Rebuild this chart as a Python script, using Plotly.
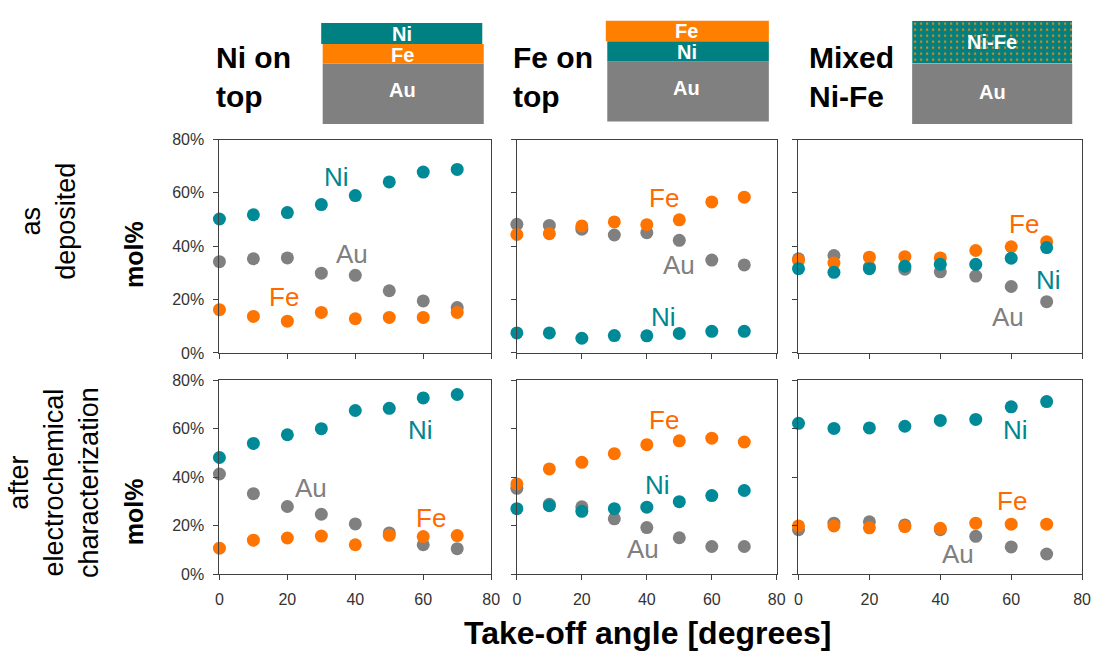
import plotly.graph_objects as go

W, H = 1100, 663

angles = [0, 10, 20, 30, 40, 50, 60, 70]
x_ticks = [0, 20, 40, 60, 80]
y_ticks = [0, 20, 40, 60, 80]
y_tick_text = ["0%", "20%", "40%", "60%", "80%"]

# as deposited (mol%)
ni_top_dep_Ni = [50.2, 51.8, 52.6, 55.6, 59.0, 64.1, 67.8, 68.8]
ni_top_dep_Au = [34.2, 35.3, 35.6, 29.9, 29.1, 23.3, 19.5, 17.0]
ni_top_dep_Fe = [16.2, 13.7, 11.9, 15.2, 12.8, 13.3, 13.3, 15.2]

fe_top_dep_Ni = [7.5, 7.5, 5.5, 6.5, 6.4, 7.3, 8.1, 8.1]
fe_top_dep_Fe = [44.4, 44.7, 47.6, 49.1, 48.1, 49.9, 56.6, 58.4]
fe_top_dep_Au = [48.2, 47.8, 46.4, 44.2, 45.1, 42.2, 34.8, 33.0]

mix_dep_Ni = [31.6, 30.2, 31.6, 32.5, 33.2, 33.2, 35.5, 39.5]
mix_dep_Fe = [34.7, 33.7, 35.9, 36.1, 35.6, 38.4, 39.8, 41.7]
mix_dep_Au = [35.3, 36.5, 32.2, 31.4, 30.4, 28.8, 24.9, 19.2]

# after electrochemical characterization (mol%)
ni_top_ec_Ni = [48.1, 53.9, 57.5, 60.0, 67.5, 68.4, 72.7, 74.1]
ni_top_ec_Au = [41.3, 33.2, 27.9, 24.7, 20.7, 17.0, 12.1, 10.5]
ni_top_ec_Fe = [10.7, 14.0, 14.9, 15.7, 12.1, 16.0, 15.5, 15.9]

fe_top_ec_Ni = [27.0, 28.2, 25.9, 27.0, 27.6, 29.9, 32.4, 34.5]
fe_top_ec_Fe = [37.2, 43.4, 46.1, 49.7, 53.4, 55.0, 56.1, 54.5]
fe_top_ec_Au = [35.4, 28.8, 27.8, 22.8, 19.2, 15.0, 11.4, 11.4]

mix_ec_Ni = [62.2, 60.1, 60.3, 61.0, 63.4, 63.8, 69.0, 71.2]
mix_ec_Fe = [19.9, 19.9, 19.1, 19.6, 18.9, 21.0, 20.6, 20.6]
mix_ec_Au = [18.3, 21.0, 21.6, 20.3, 18.3, 15.6, 11.2, 8.3]

panels = [
    (ni_top_dep_Ni, ni_top_dep_Fe, ni_top_dep_Au),
    (fe_top_dep_Ni, fe_top_dep_Fe, fe_top_dep_Au),
    (mix_dep_Ni, mix_dep_Fe, mix_dep_Au),
    (ni_top_ec_Ni, ni_top_ec_Fe, ni_top_ec_Au),
    (fe_top_ec_Ni, fe_top_ec_Fe, fe_top_ec_Au),
    (mix_ec_Ni, mix_ec_Fe, mix_ec_Au),
]

# in-panel label positions (data coords): Ni, Fe, Au
label_pos = [
    ((34.5, 65.8), (19.0, 20.9), (39.1, 37.0)),
    ((45.1, 13.6), (45.4, 58.1), (49.8, 32.8)),
    ((70.4, 27.3), (63.5, 48.3), (59.1, 13.6)),
    ((59.1, 59.4), (62.4, 23.2), (27.1, 35.7)),
    ((43.4, 36.6), (45.4, 63.6), (38.8, 10.2)),
    ((61.1, 59.4), (60.2, 30.3), (45.1, 8.4)),
]

C_NI = "#008A98"
C_FE = "#FF7300"
C_AU = "#808080"
C_NI_T = "#00868F"
C_FE_T = "#FF6A00"

def px(x):
    return x / W

def py(y):
    return 1 - y / H

x_dom = [(218, 493), (519, 782), (804, 1091)]
y_dom = [(135, 354), (382, 581)]

fig = go.Figure()
layout = {}
annotations = []
shapes = []

tickfont = dict(family="Liberation Sans", size=16, color="#333333")

for i, (ni, fe, au) in enumerate(panels):
    r, c = divmod(i, 3)
    n = i + 1
    xa = "x" if n == 1 else f"x{n}"
    ya = "y" if n == 1 else f"y{n}"
    for vals, col in ((au, C_AU), (fe, C_FE), (ni, C_NI)):
        fig.add_trace(go.Scatter(x=angles, y=vals, mode="markers", xaxis=xa, yaxis=ya,
                                 marker=dict(size=13, color=col, line=dict(width=0)),
                                 showlegend=False, hoverinfo="x+y", cliponaxis=False))
    xd = x_dom[c]
    yd = y_dom[r]
    layout["xaxis" if n == 1 else f"xaxis{n}"] = dict(
        domain=[px(xd[0]), px(xd[1])], range=[0, 80], anchor=ya,
        tickvals=x_ticks, showticklabels=(r == 1), ticks="outside", ticklen=5,
        tickcolor="#404040", showline=True, linecolor="#404040", linewidth=1,
        mirror=True, showgrid=False, zeroline=False, ticklabelstandoff=6,
        tickfont=tickfont)
    layout["yaxis" if n == 1 else f"yaxis{n}"] = dict(
        domain=[py(yd[1]), py(yd[0])], range=[0, 80], anchor=xa,
        tickvals=y_ticks, ticktext=y_tick_text, showticklabels=(c == 0), ticks="outside",
        ticklen=5, tickcolor="#404040", showline=True, linecolor="#404040",
        linewidth=1, mirror=True, showgrid=False, zeroline=False, ticklabelstandoff=6,
        tickfont=tickfont)
    for (lx, ly), txt, col in zip(label_pos[i], ("Ni", "Fe", "Au"), (C_NI_T, C_FE_T, C_AU)):
        annotations.append(dict(x=lx, y=ly, xref=xa, yref=ya, text=txt, showarrow=False,
                                xanchor="center", yanchor="middle",
                                font=dict(family="Liberation Sans", size=26, color=col)))

def pann(x, y, text, font, **kw):
    d = dict(x=px(x), y=py(y), xref="paper", yref="paper", text=text, showarrow=False,
             xanchor="center", yanchor="middle", font=font)
    d.update(kw)
    annotations.append(d)

# header titles
headers = [
    ("Ni on<br>top", 213),
    ("Fe on<br>top", 513),
    ("Mixed<br>Ni-Fe", 813),
]
for txt, x0 in headers:
    pann(x0, 71, f"<b>{txt}</b>", dict(family="Liberation Sans", size=30, color="#000000"),
         xanchor="left", align="left")

# layer stack diagrams
def rect(x0, y0, x1, y1, col):
    shapes.append(dict(type="rect", xref="paper", yref="paper", x0=px(x0), x1=px(x1),
                       y0=py(y1), y1=py(y0), fillcolor=col, line=dict(width=0), layer="above"))

def lab(x, y, t):
    pann(x, y, f"<b>{t}</b>", dict(family="Liberation Sans", size=20, color="white"))

rect(322.5, 57, 485.5, 119, "#808080")
rect(322.5, 37, 485.5, 57, "#FF8000")
rect(321, 15.5, 484, 37, "#008080")
lab(403, 26.5, "Ni"); lab(403, 48, "Fe"); lab(403, 84, "Au")

rect(610.5, 55, 774, 116.5, "#808080")
rect(610.5, 34, 774, 55, "#008080")
rect(609, 13, 774, 34, "#FF8000")
lab(691, 24, "Fe"); lab(691, 45, "Ni"); lab(691, 82, "Au")

rect(919, 57, 1081, 119, "#808080")
# patterned Ni-Fe layer as a bar filling a small hidden subplot
fig.add_trace(go.Bar(x=[0.5], y=[1], base=[0], width=[1], xaxis="x7", yaxis="y7",
                     marker=dict(color="#008080", line=dict(width=0),
                                 pattern=dict(shape=".", fgcolor="#FF8000", bgcolor="#008080",
                                              size=6, solidity=0.12, fillmode="replace")),
                     showlegend=False, hoverinfo="skip"))
layout["xaxis7"] = dict(domain=[px(919), px(1081)], range=[0, 1], visible=False, anchor="y7",
                        fixedrange=True)
layout["yaxis7"] = dict(domain=[py(57), py(13)], range=[0, 1], visible=False, anchor="x7",
                        fixedrange=True)
lab(1000, 35, "Ni-Fe"); lab(1000, 86, "Au")

# row labels
rowfont = dict(family="Liberation Sans", size=27, color="#000000")
pann(45, 219, "as<br>deposited", rowfont, textangle=-90)
pann(50, 487, "after<br>electrochemical<br>characterization", rowfont, textangle=-90)
for yy in (253, 517):
    pann(131, yy, "<b>mol%</b>", dict(family="Liberation Sans", size=25, color="#000000"),
         textangle=-90)

# x-axis title
pann(651, 641, "<b>Take-off angle [degrees]</b>",
     dict(family="Liberation Sans", size=32, color="#000000"))

fig.update_layout(width=W, height=H, margin=dict(l=0, r=0, t=0, b=0),
                  paper_bgcolor="white", plot_bgcolor="white",
                  annotations=annotations, shapes=shapes, showlegend=False, **layout)

fig.write_html("out.html")
